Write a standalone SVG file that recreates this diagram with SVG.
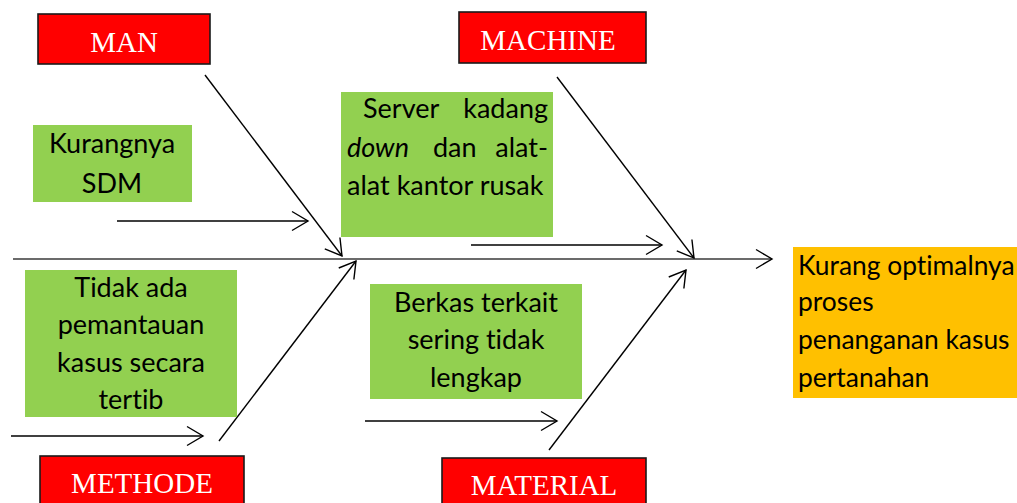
<svg xmlns="http://www.w3.org/2000/svg" width="1017" height="503" viewBox="0 0 1017 503">
<defs>
<marker id="ah" markerUnits="userSpaceOnUse" markerWidth="24" markerHeight="24" viewBox="-20 -12 24 24" refX="0" refY="0" orient="auto">
<path d="M-16,-9.5 L0,0 L-16,9.5" fill="none" stroke="#000" stroke-width="1.4"/>
</marker>
</defs>
<style>
.red{fill:#FF0000;stroke:#1a1a1a;stroke-width:1.6}
.green{fill:#92D050}
.orange{fill:#FFC000}
.lbl{font-family:"Liberation Serif","Times New Roman",serif;font-size:29px;fill:#fff;text-anchor:middle}
.t{font-family:Lato,"Open Sans",sans-serif;font-size:27px;fill:#000;font-variant-ligatures:none}
.r{font-size:26.4px}
.c{text-anchor:middle}
.ln{stroke:#000;stroke-width:1.4;fill:none;marker-end:url(#ah)}
</style>
<g id="connectors">
<line x1="13" y1="259" x2="772" y2="259" stroke="#3a3a3a" stroke-width="1.6" marker-end="url(#ah)"/>
<line class="ln" x1="205" y1="75" x2="342" y2="256"/>
<line class="ln" x1="219" y1="441" x2="356" y2="261"/>
<line class="ln" x1="557" y1="77" x2="694" y2="258"/>
<line class="ln" x1="549" y1="450" x2="686" y2="270"/>
<line class="ln" x1="117" y1="221" x2="308" y2="221"/>
<line class="ln" x1="471" y1="245" x2="662" y2="245"/>
<line class="ln" x1="11" y1="436" x2="203" y2="436"/>
<line class="ln" x1="365" y1="421" x2="557" y2="421"/>
</g>
<g id="man"><rect class="red" x="38" y="14" width="172" height="50"/><text class="lbl" x="124" y="52">MAN</text></g>
<g id="machine"><rect class="red" x="459" y="12" width="187" height="51"/><text class="lbl" x="548" y="50">MACHINE</text></g>
<g id="methode"><rect class="red" x="40" y="456" width="204" height="52"/><text class="lbl" x="142" y="493">METHODE</text></g>
<g id="material"><rect class="red" x="442" y="458" width="204" height="50"/><text class="lbl" x="544" y="495">MATERIAL</text></g>
<g id="sdm"><rect class="green" x="33" y="125" width="159" height="77"/>
<text class="t c" x="112" y="153">Kurangnya</text><text class="t c" x="112" y="193">SDM</text></g>
<g id="server"><rect class="green" x="341" y="92" width="212" height="145"/>
<text class="t" x="363" y="118">Server</text><text class="t" x="548" y="118" text-anchor="end">kadang</text>
<text class="t" x="347" y="157" font-style="italic">down</text><text class="t" x="433" y="157">dan</text><text class="t" x="548" y="157" text-anchor="end">alat-</text>
<text class="t" x="347" y="195">alat kantor rusak</text></g>
<g id="tidak"><rect class="green" x="25" y="270" width="212" height="147"/>
<text class="t c" x="131" y="297">Tidak ada</text><text class="t c" x="131" y="334">pemantauan</text>
<text class="t c" x="131" y="372">kasus secara</text><text class="t c" x="131" y="409">tertib</text></g>
<g id="berkas"><rect class="green" x="370" y="284" width="212" height="115"/>
<text class="t c" x="476" y="312">Berkas terkait</text><text class="t c" x="476" y="349">sering tidak</text>
<text class="t c" x="476" y="387">lengkap</text></g>
<g id="result"><rect class="orange" x="793" y="247" width="230" height="151"/>
<text class="t r" x="798" y="275">Kurang optimalnya</text><text class="t r" x="798" y="311">proses</text>
<text class="t r" x="798" y="349">penanganan kasus</text><text class="t r" x="798" y="387">pertanahan</text></g>
</svg>
